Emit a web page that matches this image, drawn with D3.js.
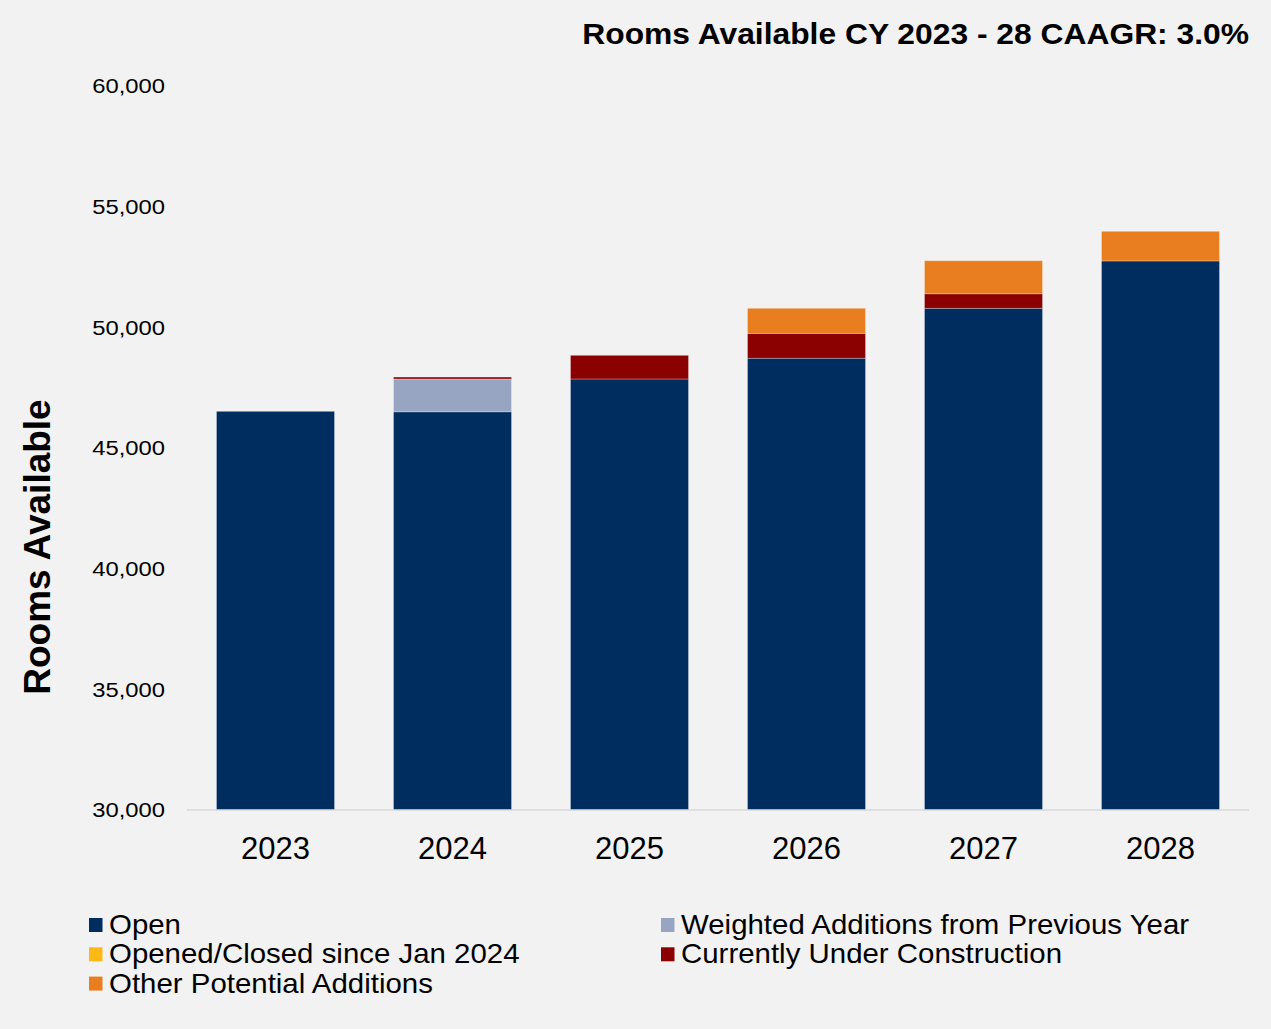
<!DOCTYPE html>
<html>
<head>
<meta charset="utf-8">
<script src="https://cdn.jsdelivr.net/npm/d3@7"></script>
<style>
  html, body { margin: 0; padding: 0; background: #f2f2f2; }
  svg { display: block; font-family: "Liberation Sans", Arial, sans-serif; }
</style>
</head>
<body>
<div id="chart"></div>
<script>
// Rooms Available — stacked bars

const years = ["2023", "2024", "2025", "2026", "2027", "2028"];
const openRooms      = [46520, 46500, 47860, 48720, 50790, 52750];
const weightedAdds   = [0, 1360, 0, 0, 0, 0];
const openedClosed   = [0, 0, 0, 0, 0, 0];
const underConstr    = [0, 80, 980, 1030, 600, 0];
const otherPotential = [0, 0, 0, 1040, 1370, 1230];
const yTicks = [30000, 35000, 40000, 45000, 50000, 55000, 60000];

const seriesKeys = ["open", "weighted", "openedClosed", "underConstr", "other"];
const seriesNames = {
  open: "Open",
  weighted: "Weighted Additions from Previous Year",
  openedClosed: "Opened/Closed since Jan 2024",
  underConstr: "Currently Under Construction",
  other: "Other Potential Additions"
};
const colors = {
  open: "#002d5f",
  weighted: "#97a5c3",
  openedClosed: "#fdb913",
  underConstr: "#8b0000",
  other: "#e87e1f"
};

const rows = years.map((y, i) => ({
  year: y,
  open: openRooms[i],
  weighted: weightedAdds[i],
  openedClosed: openedClosed[i],
  underConstr: underConstr[i],
  other: otherPotential[i]
}));

const W = 1271, H = 1029;
const svg = d3.select("#chart").append("svg").attr("width", W).attr("height", H);
svg.append("rect").attr("width", W).attr("height", H).attr("fill", "#f2f2f2");

const plot = { left: 187, right: 1249, top: 86, bottom: 810 };

const x = d3.scaleBand().domain(years).range([plot.left, plot.right])
  .paddingInner(1/3).paddingOuter(1/6);
const y = d3.scaleLinear().domain([30000, 60000]).range([plot.bottom, plot.top]);

const layers = d3.stack().keys(seriesKeys)(rows);

const g = svg.append("g");
layers.forEach(layer => {
  g.append("g").attr("fill", colors[layer.key])
    .selectAll("rect").data(layer.filter(d => d[1] - d[0] > 0)).enter().append("rect")
    .attr("x", d => x(d.data.year))
    .attr("width", x.bandwidth())
    .attr("y", d => y(d[1]))
    .attr("height", d => y(Math.max(d[0], 30000)) - y(d[1]))
    .attr("stroke", "rgba(255,255,255,0.35)")
    .attr("stroke-width", 0.8);
});

// x axis line
svg.append("line")
  .attr("x1", plot.left).attr("x2", plot.right)
  .attr("y1", y(30000)).attr("y2", y(30000))
  .attr("stroke", "#d9d9d9").attr("stroke-width", 1.3);

// y tick labels (text in the source is a bit wider than Liberation Sans)
svg.append("g").selectAll("text").data(yTicks).enter().append("text")
  .attr("transform", d => `translate(165,${y(d)}) scale(1.19,1)`)
  .attr("dy", "0.36em")
  .attr("text-anchor", "end").attr("font-size", 20).attr("fill", "#000")
  .text(d => d3.format(",")(d));

// x tick labels
svg.append("g").selectAll("text").data(years).enter().append("text")
  .attr("x", d => x(d) + x.bandwidth() / 2).attr("y", 859)
  .attr("text-anchor", "middle").attr("font-size", 31).attr("fill", "#000")
  .text(d => d);

// y axis title
svg.append("text")
  .attr("transform", "translate(50,547) rotate(-90)")
  .attr("text-anchor", "middle").attr("font-size", 37).attr("font-weight", "bold")
  .text("Rooms Available");

// chart title
svg.append("text")
  .attr("transform", "translate(1249,44) scale(1.06,1)")
  .attr("text-anchor", "end")
  .attr("font-size", 30).attr("font-weight", "bold")
  .text("Rooms Available CY 2023 - 28 CAAGR: 3.0%");

// legend
const legendItems = [
  { key: "open", col: 0, row: 0 },
  { key: "weighted", col: 1, row: 0 },
  { key: "openedClosed", col: 0, row: 1 },
  { key: "underConstr", col: 1, row: 1 },
  { key: "other", col: 0, row: 2 }
];
const colX = [89, 661];
const legend = svg.append("g").selectAll("g").data(legendItems).enter().append("g")
  .attr("transform", d => `translate(${colX[d.col]},${925 + d.row * 29.3})`);
legend.append("rect").attr("x", 0).attr("y", -7).attr("width", 13.5).attr("height", 14)
  .attr("fill", d => colors[d.key]);
legend.append("text")
  .attr("transform", "translate(20,0) scale(1.09,1)")
  .attr("dy", "0.34em")
  .attr("font-size", 27).text(d => seriesNames[d.key]);
</script>
</body>
</html>
